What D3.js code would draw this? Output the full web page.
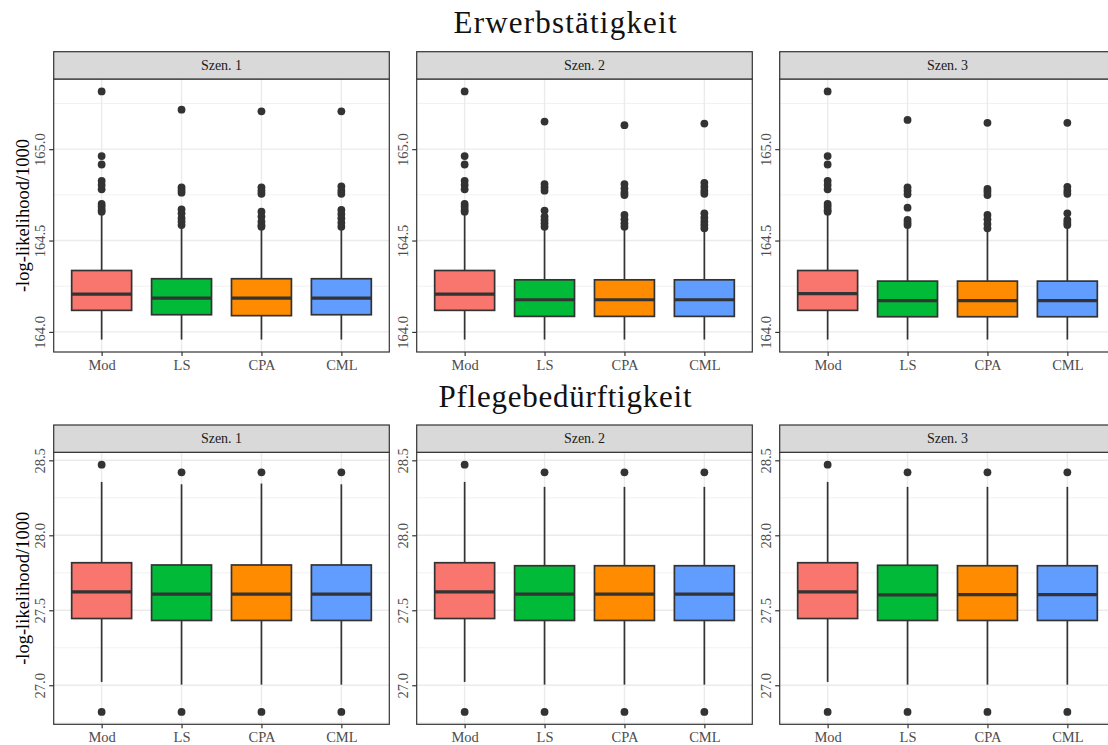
<!DOCTYPE html>
<html>
<head>
<meta charset="utf-8">
<script src="https://cdn.jsdelivr.net/npm/d3@7"></script>
<style>
  html, body { margin: 0; padding: 0; background: #fff; }
  svg { display: block; }
  text { font-family: "Liberation Serif", "Times New Roman", serif; }
</style>
</head>
<body>
<script>
// ---- data -------------------------------------------------------------
const methods = ["Mod", "LS", "CPA", "CML"];
const scenarios = ["Szen. 1", "Szen. 2", "Szen. 3"];
const fills = ["#F8766D", "#00BA38", "#FF8C00", "#619CFF"];

// Erwerbstätigkeit: box statistics, [scenario][method]
const erwLow = [
  [163.958, 163.958, 163.958, 163.958],
  [163.958, 163.958, 163.958, 163.958],
  [163.958, 163.958, 163.958, 163.958]
];
const erwQ1 = [
  [164.118, 164.094, 164.089, 164.094],
  [164.118, 164.085, 164.085, 164.085],
  [164.118, 164.083, 164.083, 164.083]
];
const erwMedian = [
  [164.207, 164.185, 164.185, 164.185],
  [164.207, 164.176, 164.176, 164.176],
  [164.209, 164.171, 164.171, 164.171]
];
const erwQ3 = [
  [164.336, 164.291, 164.291, 164.291],
  [164.336, 164.285, 164.285, 164.285],
  [164.336, 164.278, 164.278, 164.278]
];
const erwHigh = [
  [164.649, 164.576, 164.567, 164.567],
  [164.649, 164.558, 164.567, 164.558],
  [164.649, 164.567, 164.549, 164.567]
];
const erwOutliers = [
  [
    [165.316, 164.962, 164.916, 164.827, 164.804, 164.780, 164.700, 164.685, 164.667, 164.658],
    [165.216, 164.791, 164.776, 164.762, 164.671, 164.649, 164.622, 164.604, 164.585],
    [165.207, 164.791, 164.773, 164.756, 164.658, 164.631, 164.604, 164.585, 164.576],
    [165.207, 164.796, 164.773, 164.756, 164.667, 164.645, 164.622, 164.598, 164.576]
  ],
  [
    [165.316, 164.962, 164.916, 164.827, 164.804, 164.780, 164.700, 164.685, 164.667, 164.658],
    [165.151, 164.809, 164.791, 164.773, 164.664, 164.631, 164.613, 164.594, 164.576],
    [165.131, 164.809, 164.785, 164.762, 164.749, 164.640, 164.616, 164.594, 164.576],
    [165.140, 164.816, 164.794, 164.773, 164.756, 164.649, 164.625, 164.604, 164.585, 164.567]
  ],
  [
    [165.316, 164.962, 164.916, 164.827, 164.804, 164.780, 164.700, 164.685, 164.667, 164.658],
    [165.160, 164.791, 164.773, 164.753, 164.680, 164.613, 164.598, 164.585],
    [165.144, 164.782, 164.767, 164.749, 164.640, 164.616, 164.591, 164.567],
    [165.144, 164.794, 164.773, 164.756, 164.649, 164.613, 164.598, 164.585]
  ]
];
const erwTicks = [164.0, 164.5, 165.0];
const erwMinor = [164.25, 164.75, 165.25];

// Pflegebedürftigkeit: box statistics, [scenario][method]
const pflLow = [
  [27.022, 27.004, 27.004, 27.004],
  [27.022, 27.004, 27.004, 27.004],
  [27.022, 27.004, 27.004, 27.004]
];
const pflQ1 = [
  [27.445, 27.432, 27.432, 27.432],
  [27.445, 27.432, 27.432, 27.432],
  [27.445, 27.432, 27.432, 27.432]
];
const pflMedian = [
  [27.622, 27.607, 27.607, 27.607],
  [27.622, 27.607, 27.607, 27.607],
  [27.622, 27.602, 27.604, 27.604]
];
const pflQ3 = [
  [27.817, 27.802, 27.802, 27.802],
  [27.817, 27.797, 27.797, 27.797],
  [27.817, 27.800, 27.797, 27.797]
];
const pflHigh = [
  [28.356, 28.340, 28.345, 28.340],
  [28.356, 28.323, 28.323, 28.323],
  [28.356, 28.323, 28.323, 28.323]
];
const pflOutliers = [
  [[28.471, 26.822], [28.420, 26.822], [28.420, 26.822], [28.420, 26.822]],
  [[28.471, 26.822], [28.420, 26.822], [28.420, 26.822], [28.420, 26.822]],
  [[28.471, 26.822], [28.420, 26.822], [28.420, 26.822], [28.420, 26.822]]
];
const pflTicks = [27.0, 27.5, 28.0, 28.5];
const pflMinor = [26.75, 27.25, 27.75, 28.25];

const rowTitles = ["Erwerbstätigkeit", "Pflegebedürftigkeit"];
const yTitle = "-log-likelihood/1000";

// ---- layout -----------------------------------------------------------
const W = 1108, H = 745;
const panelW = 335.6, colStep = 363, firstLeft = 53.7;
const rows = [
  { stripTop: 51.7, top: 79, bottom: 352, titleY: 33.3, titleLen: 223,
    low: erwLow, q1: erwQ1, med: erwMedian, q3: erwQ3, high: erwHigh,
    out: erwOutliers, ticks: erwTicks, minor: erwMinor },
  { stripTop: 425, top: 452.3, bottom: 724.3, titleY: 406.5, titleLen: 253,
    low: pflLow, q1: pflQ1, med: pflMedian, q3: pflQ3, high: pflHigh,
    out: pflOutliers, ticks: pflTicks, minor: pflMinor }
];

const ink = "#333333";
const svg = d3.select("body").append("svg")
  .attr("width", W).attr("height", H)
  .attr("viewBox", `0 0 ${W} ${H}`);
svg.append("rect").attr("width", W).attr("height", H).attr("fill", "#fff");

rows.forEach((row, r) => {
  // shared y range for the row, padded by 5% like ggplot
  const all = [];
  row.low.forEach(a => all.push(...a));
  row.out.forEach(s => s.forEach(a => all.push(...a)));
  const [mn, mx] = d3.extent(all);
  const pad = (mx - mn) * 0.05;
  const y = d3.scaleLinear().domain([mn - pad, mx + pad]).range([row.bottom, row.top]);
  const [d0, d1] = y.domain();

  // row title
  svg.append("text")
    .attr("x", 565).attr("y", row.titleY)
    .attr("text-anchor", "middle")
    .attr("font-size", 31).attr("fill", "#111")
    .attr("textLength", row.titleLen).attr("lengthAdjust", "spacing")
    .text(rowTitles[r]);

  // y axis title
  svg.append("text")
    .attr("transform", `translate(28.5,${(row.top + row.bottom) / 2}) rotate(-90)`)
    .attr("text-anchor", "middle")
    .attr("font-size", 18.5).attr("fill", "#000")
    .text(yTitle);

  scenarios.forEach((scen, s) => {
    const left = firstLeft + s * colStep;
    const right = left + panelW;
    const x = d3.scalePoint().domain(methods).range([left, right]).padding(0.6);
    const bw = x.step() * 0.75;
    const g = svg.append("g");

    // panel background + grid
    g.append("rect").attr("x", left).attr("y", row.top)
      .attr("width", panelW).attr("height", row.bottom - row.top).attr("fill", "#fff");
    g.selectAll("line.minor").data(row.minor.filter(v => v > d0 && v < d1)).join("line")
      .attr("x1", left).attr("x2", right)
      .attr("y1", d => y(d)).attr("y2", d => y(d))
      .attr("stroke", "#ebebeb").attr("stroke-width", 0.7);
    g.selectAll("line.majorY").data(row.ticks).join("line")
      .attr("x1", left).attr("x2", right)
      .attr("y1", d => y(d)).attr("y2", d => y(d))
      .attr("stroke", "#ebebeb").attr("stroke-width", 1.4);
    g.selectAll("line.majorX").data(methods).join("line")
      .attr("x1", d => x(d)).attr("x2", d => x(d))
      .attr("y1", row.top).attr("y2", row.bottom)
      .attr("stroke", "#ebebeb").attr("stroke-width", 1.4);

    // boxplots
    methods.forEach((m, i) => {
      const cx = x(m);
      const bg = g.append("g");
      bg.append("line").attr("x1", cx).attr("x2", cx)
        .attr("y1", y(row.high[s][i])).attr("y2", y(row.q3[s][i]))
        .attr("stroke", ink).attr("stroke-width", 1.7);
      bg.append("line").attr("x1", cx).attr("x2", cx)
        .attr("y1", y(row.q1[s][i])).attr("y2", y(row.low[s][i]))
        .attr("stroke", ink).attr("stroke-width", 1.7);
      bg.append("rect")
        .attr("x", cx - bw / 2).attr("width", bw)
        .attr("y", y(row.q3[s][i])).attr("height", y(row.q1[s][i]) - y(row.q3[s][i]))
        .attr("fill", fills[i]).attr("stroke", ink).attr("stroke-width", 1.7);
      bg.append("line")
        .attr("x1", cx - bw / 2).attr("x2", cx + bw / 2)
        .attr("y1", y(row.med[s][i])).attr("y2", y(row.med[s][i]))
        .attr("stroke", ink).attr("stroke-width", 3.2);
      bg.selectAll("circle").data(row.out[s][i]).join("circle")
        .attr("cx", cx).attr("cy", d => y(d)).attr("r", 3.9)
        .attr("fill", ink);
    });

    // panel border
    g.append("rect").attr("x", left).attr("y", row.top)
      .attr("width", panelW).attr("height", row.bottom - row.top)
      .attr("fill", "none").attr("stroke", ink).attr("stroke-width", 1.2);

    // strip
    g.append("rect").attr("x", left).attr("y", row.stripTop)
      .attr("width", panelW).attr("height", row.top - row.stripTop)
      .attr("fill", "#d9d9d9").attr("stroke", ink).attr("stroke-width", 1.2);
    g.append("text")
      .attr("x", (left + right) / 2).attr("y", (row.stripTop + row.top) / 2 + 4.6)
      .attr("text-anchor", "middle").attr("font-size", 14).attr("fill", "#1a1a1a")
      .text(scen);

    // y axis
    const ya = g.append("g").attr("transform", `translate(${left},0)`)
      .call(d3.axisLeft(y).tickValues(row.ticks).tickSize(4.5).tickFormat(d3.format(".1f")));
    ya.select(".domain").remove();
    ya.selectAll(".tick line").attr("stroke", ink).attr("stroke-width", 1.2);
    ya.selectAll(".tick text")
      .attr("x", null).attr("dy", null)
      .attr("text-anchor", "middle")
      .attr("transform", "translate(-9,0) rotate(-90)")
      .attr("fill", "#4d4d4d").attr("font-size", 14.5)
      .attr("font-family", "Liberation Serif, serif");

    // x axis
    const xa = g.append("g").attr("transform", `translate(0,${row.bottom})`)
      .call(d3.axisBottom(x).tickSize(4));
    xa.select(".domain").remove();
    xa.selectAll(".tick line").attr("stroke", ink).attr("stroke-width", 1.2);
    xa.selectAll(".tick text")
      .attr("y", 18).attr("dy", null)
      .attr("fill", "#4d4d4d").attr("font-size", 14.5)
      .attr("font-family", "Liberation Serif, serif");
  });
});
</script>
</body>
</html>
